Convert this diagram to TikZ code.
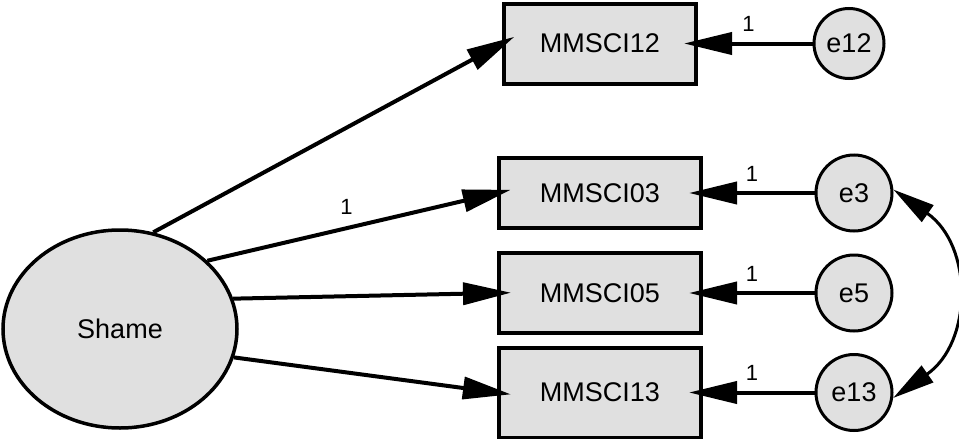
\documentclass[tikz,border=0pt]{standalone}
\usepackage{fontspec}
\setmainfont{Liberation Sans}
\usetikzlibrary{arrows.meta, positioning, shapes.geometric}
\definecolor{nodegray}{RGB}{224,224,224}

\begin{document}
\begin{tikzpicture}[
        every node/.style={align=center, font=\fontsize{13.5}{16}\selectfont},
        obs/.style={draw, line width=2pt, fill=nodegray, minimum width=101pt,
                    minimum height=40pt, inner sep=0pt},
        err/.style={draw, circle, line width=1.5pt, fill=nodegray,
                    minimum size=38pt, inner sep=0pt},
        lat/.style={draw, ellipse, line width=1.75pt, fill=nodegray,
                    minimum width=117pt, minimum height=99pt},
        arr/.style={-{Triangle[length=24pt, width=11pt]}, line width=2pt,
                    shorten >=-7pt},
        cov/.style={{Triangle[length=21pt, width=10pt]}-{Triangle[length=21pt, width=10pt]},
                    line width=1.5pt},
        lbl/.style={font=\fontsize{11}{13}\selectfont, inner sep=0pt},
        node distance=8pt and 55.75pt
    ]
        \useasboundingbox (0,0) rectangle (479.5pt,-219.5pt);

        % latent factor
        \node[lat] (shame) at (60pt,-164.5pt) {Shame};

        % indicators
        \node[obs, minimum height=35pt] (mmsci03) at (300pt,-96.5pt) {MMSCI03};
        \node[obs, below=10.5pt of mmsci03] (mmsci05) {MMSCI05};
        \node[obs, minimum height=45pt, below=5.25pt of mmsci05] (mmsci13) {MMSCI13};
        \node[obs, minimum width=96pt, above=35.25pt of mmsci03] (mmsci12) {MMSCI12};

        % error terms
        \node[err, minimum size=35pt, right=57.25pt of mmsci12] (e12) {e12};
        \node[err, right=of mmsci03] (e3)  {e3};
        \node[err, right=of mmsci05] (e5)  {e5};
        \node[err, right=of mmsci13] (e13) {e13};

        \draw[arr] (shame.71)  -- (mmsci12.west);
        \draw[arr] (shame.38)  -- node[lbl, pos=0.48, above=6pt]{1} (mmsci03.west);
        \draw[arr] (shame.15)  -- (mmsci05.west);
        \draw[arr] (shame.-14) -- (mmsci13.west);

        \draw[arr] (e12) -- node[lbl, pos=0.56, above=5pt]{1} (mmsci12);
        \draw[arr] (e3)  -- node[lbl, pos=0.56, above=5pt]{1} (mmsci03);
        \draw[arr] (e5)  -- node[lbl, pos=0.56, above=5pt]{1} (mmsci05);
        \draw[arr] (e13) -- node[lbl, pos=0.56, above=5pt]{1} (mmsci13);

        \draw[cov] (e3.5) to[out=-35, in=35, looseness=1.2] (e13.-8);
    \end{tikzpicture}
\end{document}
